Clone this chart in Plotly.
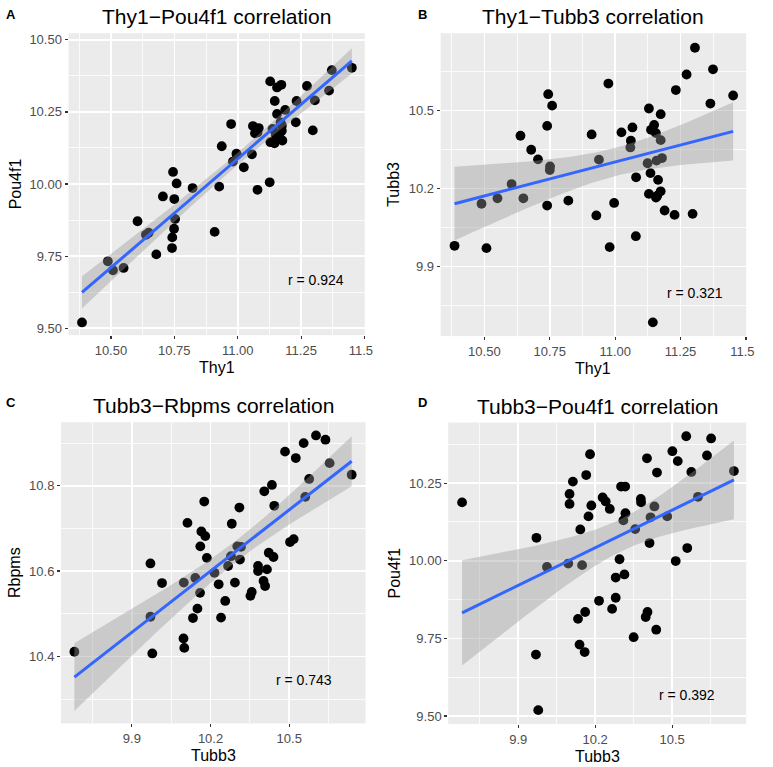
import numpy as np
import plotly.graph_objects as go

# ---------------- data ----------------
# Panel A: Thy1 vs Pou4f1
a_thy1 = [10.386, 10.488, 10.508, 10.550, 10.605, 10.638, 10.649, 10.679, 10.705, 10.745,
          10.759, 10.750, 10.753, 10.749, 10.742, 10.741, 10.822, 10.909, 10.927, 10.937,
          10.974, 10.981, 10.997, 11.024, 11.056, 11.060, 11.068, 11.083, 11.078, 11.126,
          11.128, 11.146, 11.155, 11.172, 11.155, 11.169, 11.187, 11.137, 11.129, 11.145,
          11.155, 11.164, 11.174, 11.176, 11.174, 11.232, 11.229, 11.273, 11.296, 11.304,
          11.360, 11.371, 11.450, 11.072, 11.078, 10.995, 11.150]
a_pou4f1 = [9.520, 9.732, 9.701, 9.709, 9.871, 9.824, 9.831, 9.756, 9.957, 10.042,
            10.002, 9.948, 9.879, 9.845, 9.815, 9.778, 9.986, 9.834, 9.991, 10.131,
            10.208, 10.078, 10.101, 10.058, 10.103, 10.201, 10.176, 10.194, 9.980, 10.006,
            10.356, 10.288, 10.335, 10.344, 10.243, 10.214, 10.257, 10.191, 10.145, 10.141,
            10.162, 10.174, 10.185, 10.151, 10.202, 10.288, 10.214, 10.340, 10.186, 10.290,
            10.324, 10.395, 10.403, 10.191, 10.179, 10.105, 10.170]

# Panel B: Thy1 vs Tubb3
b_thy1 = [10.386, 10.489, 10.508, 10.550, 10.604, 10.638, 10.649, 10.679, 10.705, 10.744,
          10.759, 10.740, 10.751, 10.750, 10.740, 10.821, 10.910, 10.928, 10.938, 10.974,
          10.979, 10.996, 11.024, 11.066, 11.060, 11.058, 11.080, 11.079, 11.129, 11.137,
          11.149, 11.156, 11.174, 11.174, 11.124, 11.158, 11.179, 11.135, 11.164, 11.129,
          11.174, 11.161, 11.189, 11.144, 11.227, 11.232, 11.273, 11.296, 11.305, 11.364,
          11.374, 11.451, 11.156]
b_tubb3 = [9.979, 10.141, 9.970, 10.162, 10.217, 10.403, 10.162, 10.349, 10.312, 10.563,
           10.519, 10.441, 10.285, 10.271, 10.134, 10.153, 10.408, 10.096, 10.311, 10.604,
           9.974, 10.144, 10.416, 10.435, 10.384, 10.358, 10.243, 10.016, 10.508, 10.426,
           10.445, 10.413, 10.486, 10.386, 10.297, 10.307, 10.317, 10.259, 10.233, 10.179,
           10.189, 10.172, 10.115, 9.684, 10.098, 10.579, 10.639, 10.102, 10.742, 10.527,
           10.659, 10.558, 10.165]

# Panel C: Tubb3 vs Rbpms
c_tubb3 = [9.681, 9.971, 9.971, 9.978, 10.015, 10.098, 10.097, 10.100, 10.112, 10.133,
           10.142, 10.150, 10.160, 10.161, 10.165, 10.176, 10.180, 10.186, 10.215, 10.231,
           10.240, 10.256, 10.267, 10.278, 10.281, 10.293, 10.302, 10.312, 10.316, 10.310,
           10.352, 10.357, 10.381, 10.381, 10.402, 10.408, 10.415, 10.405, 10.422, 10.440,
           10.434, 10.443, 10.484, 10.503, 10.517, 10.525, 10.555, 10.561, 10.576, 10.602,
           10.638, 10.654, 10.738]
c_rbpms = [10.411, 10.618, 10.493, 10.407, 10.572, 10.573, 10.442, 10.420, 10.713, 10.490,
           10.584, 10.512, 10.549, 10.658, 10.693, 10.763, 10.682, 10.631, 10.596, 10.569,
           10.491, 10.530, 10.612, 10.635, 10.711, 10.573, 10.658, 10.627, 10.657, 10.749,
           10.542, 10.551, 10.612, 10.600, 10.577, 10.565, 10.604, 10.787, 10.643, 10.633,
           10.802, 10.753, 10.880, 10.668, 10.675, 10.865, 10.900, 10.774, 10.816, 10.918,
           10.908, 10.853, 10.826]

# Panel D: Tubb3 vs Pou4f1
d_tubb3 = [9.681, 9.971, 9.969, 9.978, 10.012, 10.095, 10.100, 10.100, 10.113, 10.133,
           10.139, 10.142, 10.149, 10.159, 10.161, 10.165, 10.174, 10.180, 10.185, 10.215,
           10.229, 10.241, 10.257, 10.266, 10.280, 10.280, 10.295, 10.301, 10.317, 10.310,
           10.314, 10.318, 10.350, 10.356, 10.378, 10.379, 10.397, 10.404, 10.402, 10.412,
           10.416, 10.431, 10.438, 10.441, 10.481, 10.501, 10.522, 10.514, 10.555, 10.559,
           10.575, 10.601, 10.636, 10.652, 10.741]
d_pou4f1 = [10.188, 10.074, 9.698, 9.519, 9.980, 9.991, 10.215, 10.183, 10.255, 9.813,
            9.730, 10.101, 9.986, 9.706, 9.835, 10.276, 10.143, 10.343, 10.178, 9.871,
            10.204, 10.191, 10.167, 9.845, 9.946, 9.881, 10.005, 10.239, 10.239, 10.130,
            9.956, 10.153, 9.754, 10.102, 10.199, 10.188, 9.819, 9.835, 10.330, 10.057,
            10.140, 10.175, 9.778, 10.284, 10.143, 10.353, 10.321, 9.999, 10.401, 10.041,
            10.286, 10.206, 10.339, 10.394, 10.289]

titles = ["Thy1\u2212Pou4f1 correlation", "Thy1\u2212Tubb3 correlation",
          "Tubb3\u2212Rbpms correlation", "Tubb3\u2212Pou4f1 correlation"]
panel_labels = ["A", "B", "C", "D"]
x_titles = ["Thy1", "Thy1", "Tubb3", "Tubb3"]
y_titles = ["Pou4f1", "Tubb3", "Rbpms", "Pou4f1"]
r_texts = ["r = 0.924", "r = 0.321", "r = 0.743", "r = 0.392"]
r_pos = [(11.31, 9.666), (11.306, 9.798), (10.557, 10.345), (10.56, 9.567)]

thy1_ticks = [10.50, 10.75, 11.00, 11.25, 11.50]
thy1_ticktext = ["10.50", "10.75", "11.00", "11.25", "11.5\u00a0\u00a0"]
tubb3_ticks = [9.9, 10.2, 10.5]
pou4f1_ticks = [9.50, 9.75, 10.00, 10.25, 10.50]
rbpms_ticks = [10.4, 10.6, 10.8]

# ---------------- layout geometry ----------------
W, H = 773, 767
def PX(p): return p / W
def PY(p): return 1 - p / H

panels = [
    dict(x=a_thy1, y=a_pou4f1, dom=(70, 372.5, 32.3, 335),
         xr=[10.333, 11.501], yr=[9.476, 10.523],
         xt=(thy1_ticks, thy1_ticktext), xminor=(10.375, 0.25),
         yt=(pou4f1_ticks, [f"{v:.2f}" for v in pou4f1_ticks]), yminor=(9.375, 0.25)),
    dict(x=b_thy1, y=b_tubb3, dom=(450, 762, 32.3, 336),
         xr=[10.333, 11.501], yr=[9.631, 10.798],
         xt=(thy1_ticks, thy1_ticktext), xminor=(10.375, 0.25),
         yt=(tubb3_ticks, [f"{v:.1f}" for v in tubb3_ticks]), yminor=(9.45, 0.3)),
    dict(x=c_tubb3, y=c_rbpms, dom=(62.3, 373.3, 422.3, 724.3),
         xr=[9.630, 10.791], yr=[10.243, 10.949],
         xt=(tubb3_ticks, [f"{v:.1f}" for v in tubb3_ticks]), xminor=(9.45, 0.3),
         yt=(rbpms_ticks, [f"{v:.1f}" for v in rbpms_ticks]), yminor=(10.1, 0.2)),
    dict(x=d_tubb3, y=d_pou4f1, dom=(457.7, 762, 422.7, 725),
         xr=[9.627, 10.789], yr=[9.474, 10.445],
         xt=(tubb3_ticks, [f"{v:.1f}" for v in tubb3_ticks]), xminor=(9.45, 0.3),
         yt=(pou4f1_ticks, [f"{v:.2f}" for v in pou4f1_ticks]), yminor=(9.375, 0.25)),
]

FONT = "Liberation Sans, Arial, Helvetica, sans-serif"

def t975(df):
    z = 1.959964
    return z + (z**3 + z) / (4 * df) + (5 * z**5 + 16 * z**3 + 3 * z) / (96 * df**2)

fig = go.Figure()
layout = dict(width=W, height=H, margin=dict(l=0, r=0, t=0, b=0),
              paper_bgcolor="white", plot_bgcolor="#EBEBEB", showlegend=False,
              font=dict(family=FONT))
annotations = []

for i, p in enumerate(panels):
    n = i + 1
    xa = "x" if n == 1 else f"x{n}"
    ya = "y" if n == 1 else f"y{n}"
    x = np.array(p["x"]); y = np.array(p["y"])
    # points
    fig.add_trace(go.Scatter(x=x, y=y, mode="markers", xaxis=xa, yaxis=ya,
                             marker=dict(color="black", size=9.8, line=dict(width=0)),
                             hoverinfo="skip"))
    # linear fit with 95% confidence band
    N = len(x)
    b1, b0 = np.polyfit(x, y, 1)
    resid = y - (b0 + b1 * x)
    s = np.sqrt(np.sum(resid**2) / (N - 2))
    sxx = np.sum((x - x.mean())**2)
    xs = np.linspace(x.min(), x.max(), 80)
    yh = b0 + b1 * xs
    se = s * np.sqrt(1.0 / N + (xs - x.mean())**2 / sxx)
    t = t975(N - 2)
    up, lo = yh + t * se, yh - t * se
    fig.add_trace(go.Scatter(x=np.concatenate([xs, xs[::-1]]),
                             y=np.concatenate([up, lo[::-1]]),
                             mode="lines", fill="toself", xaxis=xa, yaxis=ya,
                             fillcolor="rgba(153,153,153,0.4)", line=dict(width=0),
                             hoverinfo="skip"))
    fig.add_trace(go.Scatter(x=xs, y=yh, mode="lines", xaxis=xa, yaxis=ya,
                             line=dict(color="#3366FF", width=3), hoverinfo="skip"))

    x0, x1, y0, y1 = p["dom"]
    common = dict(showgrid=True, gridcolor="white", gridwidth=1.6, zeroline=False,
                  showline=False, ticks="outside", ticklen=3, tickwidth=1.2,
                  tickcolor="#333333", tickfont=dict(size=13, color="#4D4D4D", family=FONT),
                  tickmode="array", fixedrange=True)
    layout["xaxis" if n == 1 else f"xaxis{n}"] = dict(
        common, domain=[PX(x0), PX(x1)], range=p["xr"], anchor=ya,
        tickvals=p["xt"][0], ticktext=p["xt"][1],
        minor=dict(tickmode="linear", tick0=p["xminor"][0], dtick=p["xminor"][1],
                   showgrid=True, gridcolor="white", gridwidth=0.8, ticks=""))
    layout["yaxis" if n == 1 else f"yaxis{n}"] = dict(
        common, domain=[PY(y1), PY(y0)], range=p["yr"], anchor=xa,
        tickvals=p["yt"][0], ticktext=p["yt"][1],
        minor=dict(tickmode="linear", tick0=p["yminor"][0], dtick=p["yminor"][1],
                   showgrid=True, gridcolor="white", gridwidth=0.8, ticks=""))

    cx = (x0 + x1) / 2
    cy = (y0 + y1) / 2
    # title
    annotations.append(dict(text=titles[i], x=PX(cx), y=PY(y0 - 16.5), xref="paper", yref="paper",
                            xanchor="center", yanchor="middle", showarrow=False,
                            font=dict(size=21, color="black", family=FONT)))
    # panel label
    lab_x = 11.7 if i % 2 == 0 else 431
    lab_y = 14 if i < 2 else 402.5
    annotations.append(dict(text=f"<b>{panel_labels[i]}</b>", x=PX(lab_x), y=PY(lab_y),
                            xref="paper", yref="paper", xanchor="center", yanchor="middle",
                            showarrow=False, font=dict(size=13, color="black", family=FONT)))
    # axis titles
    annotations.append(dict(text=x_titles[i], x=PX(cx), y=PY(y1 + 32), xref="paper", yref="paper",
                            xanchor="center", yanchor="middle", showarrow=False,
                            font=dict(size=16, color="black", family=FONT)))
    ytx = 15.5 if i % 2 == 0 else 402.5
    annotations.append(dict(text=y_titles[i], x=PX(ytx), y=PY(cy), xref="paper", yref="paper",
                            xanchor="center", yanchor="middle", textangle=-90, showarrow=False,
                            font=dict(size=16, color="black", family=FONT)))
    # correlation text
    annotations.append(dict(text=r_texts[i], x=r_pos[i][0], y=r_pos[i][1], xref=xa, yref=ya,
                            xanchor="center", yanchor="middle", showarrow=False,
                            font=dict(size=14, color="black", family=FONT)))

layout["annotations"] = annotations
fig.update_layout(**layout)
fig.write_html("out.html", config={"displayModeBar": False, "staticPlot": True},
               post_script="document.body.style.margin='0';document.body.style.overflow='hidden';")
